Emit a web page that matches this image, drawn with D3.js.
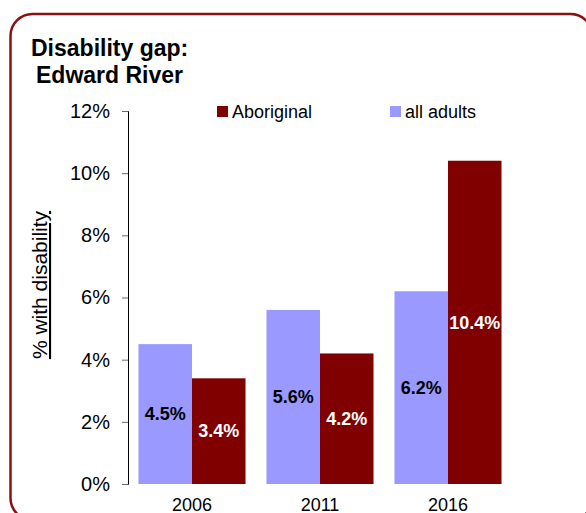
<!DOCTYPE html>
<html>
<head>
<meta charset="utf-8">
<script src="https://cdn.jsdelivr.net/npm/d3@7"></script>
<style>
  html, body { margin: 0; padding: 0; background: #fff; }
  svg { display: block; font-family: "Liberation Sans", Arial, sans-serif; }
</style>
</head>
<body>
<svg id="chart" width="586" height="513"></svg>
<script>
const years = ["2006", "2011", "2016"];
const seriesNames = ["all adults", "Aboriginal"];
const allAdults = [4.5, 5.6, 6.2];
const aboriginal = [3.4, 4.2, 10.4];
const yTicks = [0, 2, 4, 6, 8, 10, 12];
const legendOrder = ["Aboriginal", "all adults"];

const colors = { "all adults": "#9999ff", "Aboriginal": "#800000" };
const labelColors = { "all adults": "#000", "Aboriginal": "#fff" };

const svg = d3.select("#chart");

// frame
svg.append("rect")
  .attr("x", 10.5).attr("y", 14).attr("width", 582).attr("height", 506)
  .attr("rx", 22).attr("ry", 22)
  .attr("fill", "none").attr("stroke", "#8b1010").attr("stroke-width", 2.5);

// title
svg.append("text").attr("x", 31).attr("y", 56)
  .attr("font-size", 23).attr("font-weight", "bold").attr("fill", "#000")
  .text("Disability gap:");
svg.append("text").attr("x", 36).attr("y", 83)
  .attr("font-size", 23).attr("font-weight", "bold").attr("fill", "#000")
  .text("Edward River");

const y = d3.scaleLinear().domain([0, 12]).range([484, 111]);
const x0 = d3.scaleBand().domain(years).range([128, 512]).paddingInner(0.164).paddingOuter(0.082);
const x1 = d3.scaleBand().domain(seriesNames).range([0, x0.bandwidth()]);

// y axis
const yAxis = d3.axisLeft(y).tickValues(yTicks).tickFormat(d => d + "%").tickSizeOuter(0).tickSize(6).tickPadding(12);
const gy = svg.append("g").attr("transform", "translate(128,0)").call(yAxis);
gy.select(".domain").attr("stroke", "#000");
gy.selectAll(".tick line").attr("stroke", "#666");
gy.selectAll(".tick text").attr("font-size", 20).attr("fill", "#000")
  .attr("font-family", "Liberation Sans, Arial, sans-serif");

// y axis title
svg.append("text")
  .attr("transform", "translate(47,285) rotate(-90)")
  .attr("text-anchor", "middle")
  .attr("font-size", 21)
  .attr("text-decoration", "underline")
  .attr("fill", "#000")
  .text("% with disability");

// data rows
const rows = years.map((yr, i) => ({ year: yr, values: [
  { key: "all adults", value: allAdults[i] },
  { key: "Aboriginal", value: aboriginal[i] }
]}));

const groups = svg.append("g").selectAll("g").data(rows).join("g")
  .attr("transform", d => `translate(${x0(d.year)},0)`);

groups.selectAll("rect").data(d => d.values).join("rect")
  .attr("x", d => x1(d.key))
  .attr("y", d => y(d.value))
  .attr("width", x1.bandwidth())
  .attr("height", d => y(0) - y(d.value))
  .attr("fill", d => colors[d.key]);

groups.selectAll("text").data(d => d.values).join("text")
  .attr("x", d => x1(d.key) + x1.bandwidth() / 2)
  .attr("y", d => (y(d.value) + y(0)) / 2)
  .attr("dy", "0.35em")
  .attr("text-anchor", "middle")
  .attr("font-size", 18)
  .attr("font-weight", "bold")
  .attr("fill", d => labelColors[d.key])
  .text(d => d.value.toFixed(1) + "%");

// x labels
svg.append("g").selectAll("text").data(years).join("text")
  .attr("x", d => x0(d) + x0.bandwidth() / 2)
  .attr("y", 511)
  .attr("text-anchor", "middle")
  .attr("font-size", 18)
  .attr("fill", "#000")
  .text(d => d);

// legend
const legendX = { "Aboriginal": 217, "all adults": 390 };
const lg = svg.append("g").selectAll("g").data(legendOrder).join("g")
  .attr("transform", d => `translate(${legendX[d]},106)`);
lg.append("rect").attr("width", 11).attr("height", 11).attr("fill", d => colors[d]);
lg.append("text").attr("x", 15).attr("y", 11.5)
  .attr("font-size", 18).attr("fill", "#000").text(d => d);
</script>
</body>
</html>
